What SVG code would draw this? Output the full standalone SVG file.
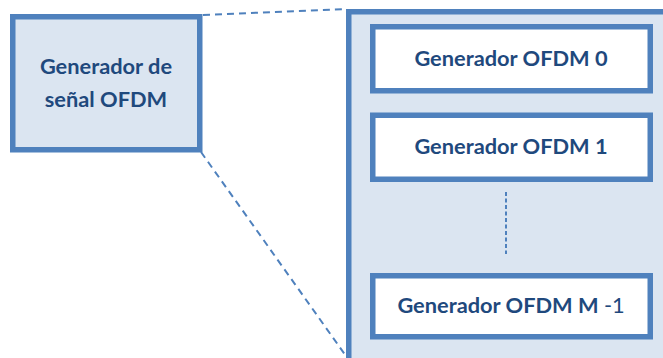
<svg xmlns="http://www.w3.org/2000/svg" width="663" height="358" viewBox="0 0 663 358">
  <style>
    .box { fill: #DBE5F1; stroke: #4F81BD; stroke-width: 5.5; }
    .inner { fill: #FFFFFF; stroke: #4F81BD; stroke-width: 5.5; }
    .link { fill: none; stroke: #4F81BD; stroke-width: 2; stroke-dasharray: 7 5; }
    .dots { fill: none; stroke: #4F81BD; stroke-width: 2; stroke-dasharray: 4 2.5; }
    .lbl { font-family: Lato, "Open Sans", "Liberation Sans", sans-serif; font-weight: bold; font-size: 21.8px; fill: #1F497D; text-anchor: middle; }
    .thin { font-weight: normal; }
  </style>

  <!-- single generator block -->
  <g id="generador-senal">
    <rect class="box" x="12.75" y="16.75" width="187" height="133"/>
    <text class="lbl" x="106" y="74">Generador de</text>
    <text class="lbl" x="106" y="107">señal OFDM</text>
  </g>

  <!-- expanded bank of generators -->
  <g id="banco">
    <rect class="box" x="348.75" y="11.75" width="330" height="360"/>
  </g>

  <g id="ofdm-0">
    <rect class="inner" x="372.75" y="26.75" width="277.5" height="64"/>
    <text class="lbl" x="511" y="66">Generador OFDM 0</text>
  </g>

  <g id="ofdm-1">
    <rect class="inner" x="372.75" y="115.25" width="277.5" height="64"/>
    <text class="lbl" x="511" y="154">Generador OFDM 1</text>
  </g>

  <g id="ofdm-m1">
    <rect class="inner" x="372.75" y="275.75" width="277.5" height="61"/>
    <text class="lbl" x="511" y="313">Generador OFDM M <tspan class="thin">-1</tspan></text>
  </g>

  <!-- zoom connectors and ellipsis -->
  <g id="connectors">
    <line class="link" x1="203" y1="15" x2="346" y2="9"/>
    <line class="link" x1="201" y1="152" x2="346" y2="356"/>
    <line class="dots" x1="506" y1="192" x2="506" y2="254"/>
  </g>
</svg>
